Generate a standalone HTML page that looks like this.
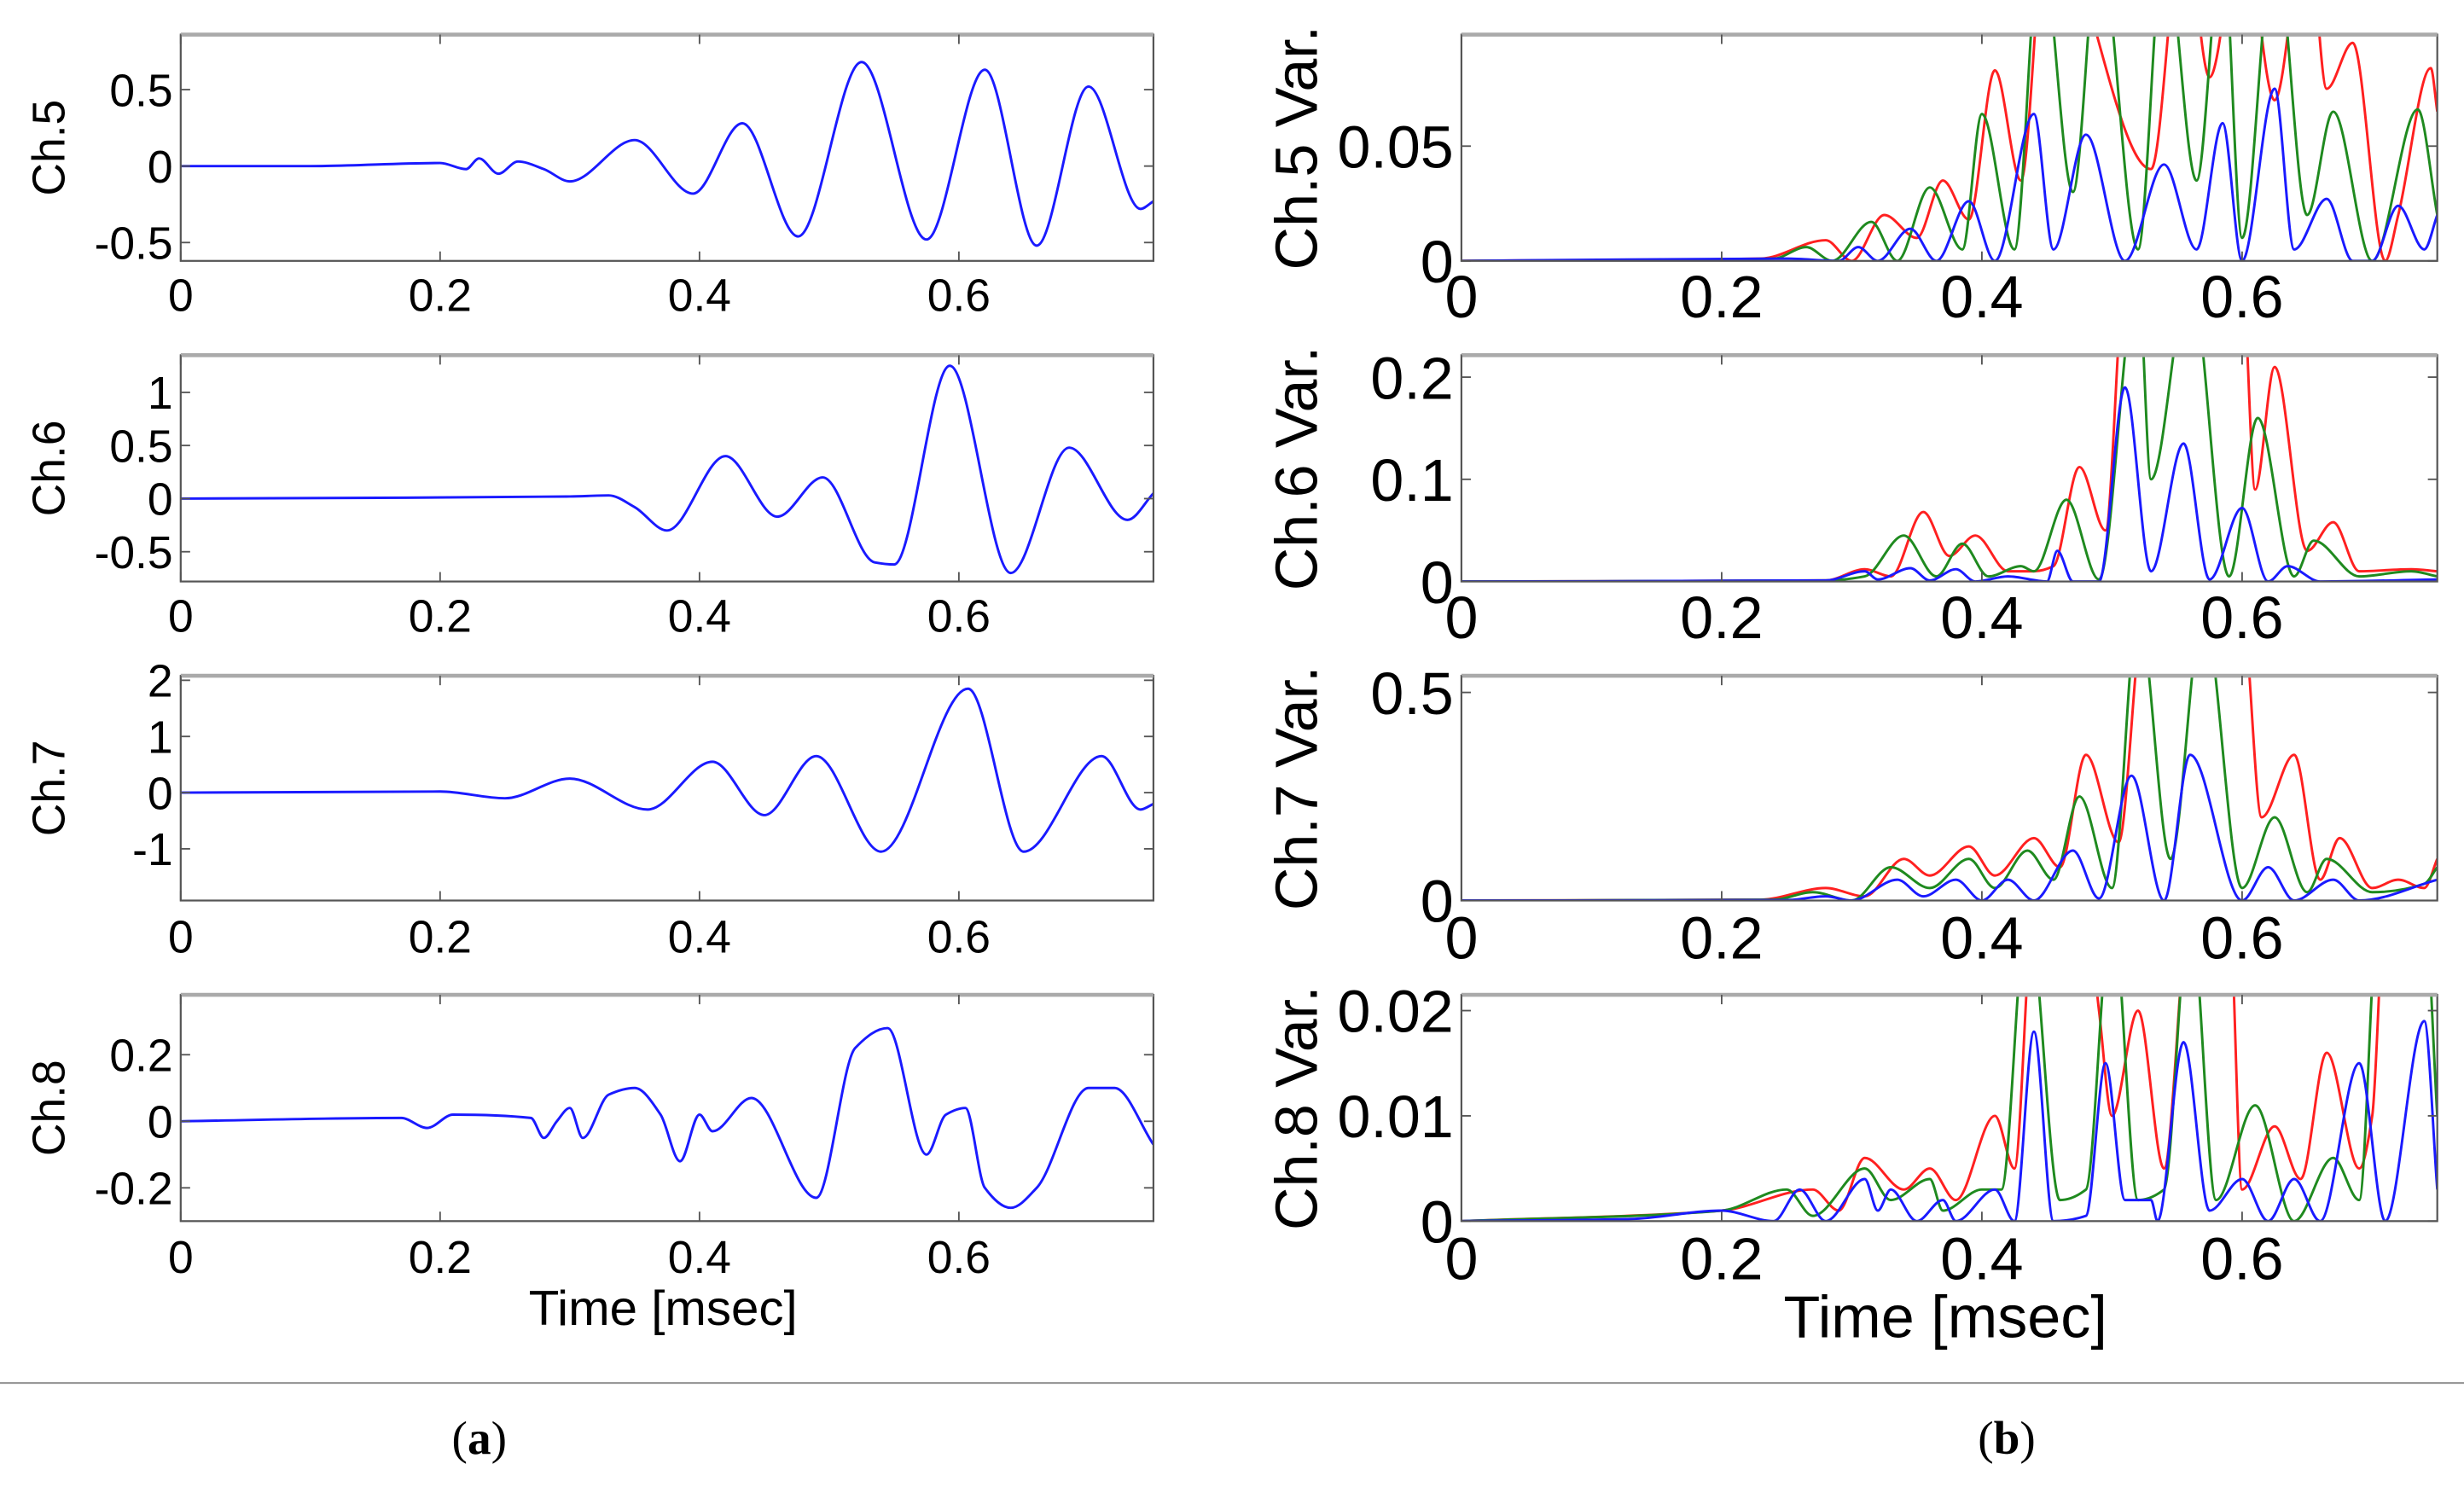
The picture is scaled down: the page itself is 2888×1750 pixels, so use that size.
<!DOCTYPE html>
<html><head><meta charset="utf-8"><style>html,body{margin:0;padding:0;background:#fff}svg{display:block}</style></head>
<body>
<svg id="fig" width="2888" height="1750" viewBox="0 0 1568 950" preserveAspectRatio="none" xmlns="http://www.w3.org/2000/svg" font-family="Liberation Sans, sans-serif">
<line x1="0" y1="880" x2="1568" y2="880" stroke="#999" stroke-width="1.2"/>
<text x="305" y="925" font-family="Liberation Serif, serif" font-size="30" text-anchor="middle">(<tspan font-weight="bold">a</tspan>)</text>
<text x="1277" y="925" font-family="Liberation Serif, serif" font-size="30" text-anchor="middle">(<tspan font-weight="bold">b</tspan>)</text>
<text x="422" y="843" font-size="31" text-anchor="middle" textLength="171" lengthAdjust="spacingAndGlyphs">Time [msec]</text>
<text x="1238" y="851" font-size="38" text-anchor="middle" textLength="206" lengthAdjust="spacingAndGlyphs">Time [msec]</text>
</svg>
<script>
const xTicks=[0,0.2,0.4,0.6];
const xTickLabels=["0","0.2","0.4","0.6"];
const ch5=[[0,0],[0.1,0],[0.2,0.02],[0.22,-0.02],[0.23,0.05],[0.245,-0.05],[0.26,0.03],[0.28,-0.02],[0.3,-0.1],[0.35,0.17],[0.395,-0.18],[0.433,0.28],[0.476,-0.46],[0.525,0.68],[0.575,-0.48],[0.62,0.63],[0.66,-0.52],[0.7,0.52],[0.74,-0.28],[0.75,-0.23]];
const ch6=[[0,0],[0.3,0.02],[0.33,0.03],[0.35,-0.08],[0.375,-0.3],[0.42,0.4],[0.46,-0.17],[0.495,0.2],[0.535,-0.6],[0.55,-0.62],[0.593,1.25],[0.64,-0.7],[0.685,0.48],[0.73,-0.2],[0.75,0.05]];
const ch7=[[0,0],[0.2,0.02],[0.25,-0.1],[0.3,0.25],[0.36,-0.3],[0.41,0.55],[0.45,-0.4],[0.49,0.65],[0.54,-1.05],[0.607,1.85],[0.65,-1.05],[0.71,0.65],[0.74,-0.3],[0.75,-0.2]];
const ch8=[[0,0],[0.17,0.01],[0.19,-0.02],[0.21,0.02],[0.27,0.01],[0.28,-0.05],[0.29,0],[0.3,0.04],[0.31,-0.05],[0.33,0.08],[0.35,0.1],[0.37,0.02],[0.385,-0.12],[0.4,0.02],[0.41,-0.03],[0.44,0.07],[0.49,-0.23],[0.52,0.22],[0.545,0.28],[0.575,-0.1],[0.59,0.02],[0.605,0.04],[0.62,-0.2],[0.64,-0.26],[0.66,-0.2],[0.7,0.1],[0.72,0.1],[0.75,-0.07]];
const v5b=[[0,0],[0.25,0.001],[0.29,0],[0.305,0.006],[0.32,0],[0.345,0.014],[0.365,0],[0.39,0.026],[0.41,0],[0.44,0.064],[0.455,0.005],[0.48,0.055],[0.51,0],[0.54,0.042],[0.565,0.005],[0.585,0.06],[0.6,0],[0.625,0.075],[0.64,0.005],[0.665,0.027],[0.685,0],[0.7,0],[0.72,0.024],[0.74,0.005],[0.75,0.02]];
const v5g=[[0,0],[0.24,0.001],[0.265,0.006],[0.285,0],[0.315,0.017],[0.335,0],[0.36,0.032],[0.385,0.005],[0.4,0.064],[0.425,0.005],[0.445,0.14],[0.47,0.03],[0.49,0.14],[0.52,0.005],[0.54,0.14],[0.565,0.035],[0.585,0.14],[0.6,0.01],[0.625,0.14],[0.65,0.02],[0.67,0.065],[0.7,0],[0.735,0.066],[0.75,0.02]];
const v5r=[[0,0],[0.23,0.001],[0.28,0.009],[0.3,0],[0.325,0.02],[0.35,0.01],[0.37,0.035],[0.39,0.018],[0.41,0.083],[0.43,0.035],[0.45,0.15],[0.53,0.04],[0.555,0.15],[0.575,0.08],[0.6,0.15],[0.625,0.07],[0.65,0.15],[0.665,0.075],[0.685,0.095],[0.71,0],[0.72,0.02],[0.745,0.084],[0.75,0.065]];
const v6b=[[0,0],[0.28,0.001],[0.31,0.01],[0.32,0.002],[0.345,0.013],[0.36,0.001],[0.38,0.012],[0.395,0],[0.42,0.005],[0.45,0],[0.458,0.03],[0.47,0],[0.49,0],[0.51,0.19],[0.53,0.01],[0.555,0.135],[0.575,0.002],[0.6,0.072],[0.62,0],[0.635,0.015],[0.66,0],[0.75,0.002]];
const v6g=[[0,0],[0.28,0.001],[0.31,0.005],[0.34,0.045],[0.365,0.005],[0.385,0.037],[0.405,0.005],[0.43,0.015],[0.44,0.01],[0.465,0.08],[0.49,0.002],[0.52,0.3],[0.53,0.1],[0.56,0.3],[0.59,0.005],[0.612,0.16],[0.64,0.005],[0.655,0.04],[0.69,0.005],[0.73,0.01],[0.75,0.005]];
const v6r=[[0,0],[0.28,0.001],[0.31,0.012],[0.33,0.005],[0.355,0.068],[0.375,0.025],[0.395,0.045],[0.42,0.01],[0.44,0.01],[0.455,0.015],[0.475,0.112],[0.495,0.05],[0.51,0.3],[0.6,0.3],[0.61,0.09],[0.625,0.21],[0.65,0.03],[0.67,0.058],[0.69,0.01],[0.73,0.012],[0.75,0.01]];
const v7b=[[0,0],[0.25,0.001],[0.28,0.01],[0.3,0],[0.335,0.05],[0.355,0.01],[0.38,0.05],[0.4,0],[0.42,0.05],[0.44,0],[0.47,0.12],[0.49,0.005],[0.515,0.3],[0.54,0],[0.56,0.35],[0.6,0],[0.62,0.08],[0.64,0],[0.67,0.05],[0.69,0],[0.75,0.05]];
const v7g=[[0,0],[0.24,0.002],[0.27,0.02],[0.3,0],[0.33,0.08],[0.36,0.03],[0.39,0.1],[0.41,0.03],[0.435,0.12],[0.455,0.05],[0.475,0.25],[0.5,0.03],[0.52,0.7],[0.545,0.1],[0.57,0.7],[0.6,0.03],[0.625,0.2],[0.65,0.02],[0.665,0.1],[0.7,0.02],[0.74,0.04],[0.75,0.08]];
const v7r=[[0,0],[0.23,0.002],[0.28,0.03],[0.31,0.01],[0.34,0.1],[0.36,0.06],[0.39,0.13],[0.41,0.06],[0.44,0.15],[0.46,0.08],[0.48,0.35],[0.505,0.14],[0.525,0.7],[0.6,0.7],[0.615,0.2],[0.64,0.35],[0.66,0.05],[0.675,0.15],[0.7,0.03],[0.72,0.05],[0.74,0.03],[0.75,0.1]];
const v8b=[[0,0],[0.13,0.0002],[0.2,0.001],[0.24,0],[0.26,0.003],[0.28,0],[0.31,0.004],[0.32,0.001],[0.33,0.003],[0.35,0],[0.37,0.002],[0.38,0],[0.41,0.003],[0.425,0],[0.44,0.018],[0.455,0],[0.48,0.0005],[0.495,0.015],[0.51,0.002],[0.53,0.002],[0.535,0],[0.555,0.017],[0.575,0.001],[0.6,0.004],[0.62,0],[0.64,0.004],[0.66,0],[0.69,0.015],[0.71,0],[0.74,0.019],[0.75,0.003]];
const v8g=[[0,0],[0.2,0.001],[0.25,0.003],[0.27,0.0005],[0.31,0.005],[0.33,0.002],[0.36,0.004],[0.37,0.001],[0.4,0.003],[0.415,0.003],[0.435,0.03],[0.46,0.002],[0.48,0.003],[0.5,0.03],[0.52,0.002],[0.54,0.003],[0.56,0.03],[0.58,0.002],[0.61,0.011],[0.64,0],[0.67,0.006],[0.69,0.002],[0.705,0.03],[0.74,0.03],[0.75,0.01]];
const v8r=[[0,0],[0.2,0.001],[0.27,0.003],[0.29,0.001],[0.31,0.006],[0.34,0.003],[0.36,0.005],[0.38,0.002],[0.41,0.01],[0.425,0.005],[0.44,0.03],[0.48,0.03],[0.49,0.02],[0.5,0.01],[0.52,0.02],[0.54,0.005],[0.56,0.03],[0.59,0.03],[0.6,0.003],[0.625,0.009],[0.645,0.004],[0.665,0.016],[0.69,0.005],[0.7,0.01],[0.71,0.03],[0.75,0.03]];

const NS="http://www.w3.org/2000/svg";
const svg=document.getElementById('fig');
function mk(tag,attrs,parent){const e=document.createElementNS(NS,tag);for(const k in attrs)e.setAttribute(k,attrs[k]);(parent||svg).appendChild(e);return e;}
// monotone cubic (Fritsch-Carlson) - no overshoot
function smooth(p){
  const n=p.length;const dx=[],dy=[],m=[];
  for(let i=0;i<n-1;i++){dx.push(p[i+1][0]-p[i][0]);dy.push(p[i+1][1]-p[i][1]);m.push(dy[i]/(dx[i]||1e-9));}
  const t=[m[0]];
  for(let i=1;i<n-1;i++){ if(m[i-1]*m[i]<=0)t.push(0); else {const w1=2*dx[i]+dx[i-1],w2=dx[i]+2*dx[i-1];t.push((w1+w2)/(w1/m[i-1]+w2/m[i]));} }
  t.push(m[n-2]);
  let d="M"+p[0][0].toFixed(2)+","+p[0][1].toFixed(2);
  for(let i=0;i<n-1;i++){const h=dx[i]/3;d+=" C"+(p[i][0]+h).toFixed(2)+","+(p[i][1]+t[i]*h).toFixed(2)+" "+(p[i+1][0]-h).toFixed(2)+","+(p[i+1][1]-t[i+1]*h).toFixed(2)+" "+p[i+1][0].toFixed(2)+","+p[i+1][1].toFixed(2);}
  return d;
}
let clipId=0;
function panel(cfg){
  const {x0,x1,y0,y1,ymin,ymax,yTicks,yLabels,ylabel,series,fs,ylfs,ylx,name,tly}=cfg;
  const sx=t=>x0+(t/0.75)*(x1-x0);
  const sy=v=>y1-(v-ymin)/(ymax-ymin)*(y1-y0);
  const g=mk('g',{});
  
  
  const id='clip'+(clipId++);
  const cp=mk('clipPath',{id:id},g);mk('rect',{x:x0,y:y0,width:x1-x0,height:y1-y0},cp);
  series.forEach(s=>{
    const p=mk('path',{d:smooth(s.data.map(d=>[sx(d[0]),sy(d[1])])),fill:'none',stroke:s.color,'stroke-width':1.6,'clip-path':'url(#'+id+')'},g);
    
    
  });
  const box=mk('rect',{x:x0,y:y0,width:x1-x0,height:y1-y0,fill:'none',stroke:'#555','stroke-width':1.2},g);
  
  
  mk('line',{x1:x0,y1:y0,x2:x1,y2:y0,stroke:'#aaa','stroke-width':2.5},g);
  xTicks.forEach((t,i)=>{
    const X=sx(t);
    mk('line',{x1:X,y1:y1,x2:X,y2:y1-6,stroke:'#555'},g);
    mk('line',{x1:X,y1:y0,x2:X,y2:y0+6,stroke:'#555'},g);
    const tx=mk('text',{x:X,y:tly,'font-size':fs,'text-anchor':'middle'},g);
    tx.textContent=xTickLabels[i];
    
    
  });
  yTicks.forEach((v,i)=>{
    const Y=sy(v);
    mk('line',{x1:x0,y1:Y,x2:x0+6,y2:Y,stroke:'#555'},g);
    mk('line',{x1:x1,y1:Y,x2:x1-6,y2:Y,stroke:'#555'},g);
    const tx=mk('text',{x:x0-5,y:Y+fs*0.36,'font-size':fs,'text-anchor':'end'},g);
    tx.textContent=yLabels[i];
    
    
  });
  const yl=mk('text',{x:ylx,y:(y0+y1)/2,'font-size':ylfs,'text-anchor':'middle',transform:'rotate(-90 '+ylx+' '+(y0+y1)/2+')'},g);
  yl.textContent=ylabel;
  
  
}
const L={x0:115,x1:734,fs:29,ylfs:29,ylx:41};
const R={x0:930,x1:1551,fs:38,ylfs:38,ylx:838};
const B='#1a1aff',G='#1f8a1f',Rd='#ff2020';
panel({...L,y0:22,y1:166,ymin:-0.62,ymax:0.86,yTicks:[0.5,0,-0.5],yLabels:["0.5","0","-0.5"],ylabel:"Ch.5",name:"ch5-plot",tly:198,series:[{data:ch5,color:B,name:'ch5-signal'}]});
panel({...L,y0:226,y1:370,ymin:-0.78,ymax:1.35,yTicks:[1,0.5,0,-0.5],yLabels:["1","0.5","0","-0.5"],ylabel:"Ch.6",name:"ch6-plot",tly:402,series:[{data:ch6,color:B,name:'ch6-signal'}]});
panel({...L,y0:430,y1:573,ymin:-1.92,ymax:2.08,yTicks:[2,1,0,-1],yLabels:["2","1","0","-1"],ylabel:"Ch.7",name:"ch7-plot",tly:606,series:[{data:ch7,color:B,name:'ch7-signal'}]});
panel({...L,y0:633,y1:777,ymin:-0.30,ymax:0.38,yTicks:[0.2,0,-0.2],yLabels:["0.2","0","-0.2"],ylabel:"Ch.8",name:"ch8-plot",tly:810,series:[{data:ch8,color:B,name:'ch8-signal'}]});
panel({...R,y0:22,y1:166,ymin:0,ymax:0.0986,yTicks:[0.05,0],yLabels:["0.05","0"],ylabel:"Ch.5 Var.",name:"ch5-var-plot",tly:202,series:[{data:v5r,color:Rd,name:'ch5-var-red'},{data:v5g,color:G,name:'ch5-var-green'},{data:v5b,color:B,name:'ch5-var-blue'}]});
panel({...R,y0:226,y1:370,ymin:0,ymax:0.2215,yTicks:[0.2,0.1,0],yLabels:["0.2","0.1","0"],ylabel:"Ch.6 Var.",name:"ch6-var-plot",tly:406,series:[{data:v6r,color:Rd,name:'ch6-var-red'},{data:v6g,color:G,name:'ch6-var-green'},{data:v6b,color:B,name:'ch6-var-blue'}]});
panel({...R,y0:430,y1:573,ymin:0,ymax:0.54,yTicks:[0.5,0],yLabels:["0.5","0"],ylabel:"Ch.7 Var.",name:"ch7-var-plot",tly:610,series:[{data:v7r,color:Rd,name:'ch7-var-red'},{data:v7g,color:G,name:'ch7-var-green'},{data:v7b,color:B,name:'ch7-var-blue'}]});
panel({...R,y0:633,y1:777,ymin:0,ymax:0.0215,yTicks:[0.02,0.01,0],yLabels:["0.02","0.01","0"],ylabel:"Ch.8 Var.",name:"ch8-var-plot",tly:814,series:[{data:v8r,color:Rd,name:'ch8-var-red'},{data:v8g,color:G,name:'ch8-var-green'},{data:v8b,color:B,name:'ch8-var-blue'}]});
</script>
</body></html>
